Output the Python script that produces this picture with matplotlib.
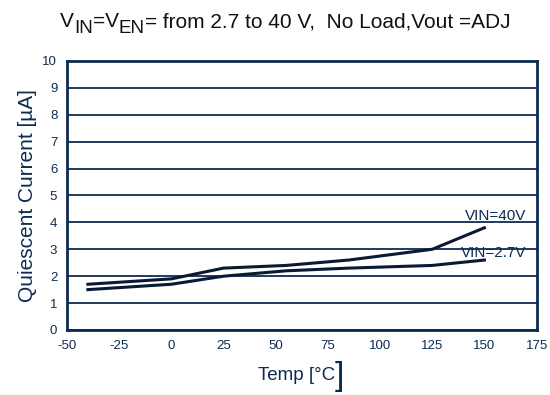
import matplotlib.pyplot as plt
import numpy as np

temps = [-40, 0, 25, 55, 85, 125, 150]
iq_40v = [1.7, 1.9, 2.3, 2.4, 2.6, 3.0, 3.8]
iq_2v7 = [1.5, 1.7, 2.0, 2.2, 2.3, 2.4, 2.6]
x_ticks = [-50, -25, 0, 25, 50, 75, 100, 125, 150, 175]
y_ticks = list(range(0, 11))

navy = '#0d2b50'
line_col = '#0a1a33'

plt.rcParams['font.family'] = ['Liberation Sans', 'DejaVu Sans']
plt.rcParams['axes.unicode_minus'] = False

fig = plt.figure(figsize=(5.5, 3.95), dpi=100)
ax = fig.add_axes([0.1218, 0.1646, 0.8538, 0.681])

for y in y_ticks:
    ax.axhline(y, color=navy, lw=1.3, zorder=1)

ax.plot(temps, iq_40v, color=line_col, lw=2.2, zorder=3)
ax.plot(temps, iq_2v7, color=line_col, lw=2.2, zorder=3)

ax.text(170, 4.1, 'VIN=40V', ha='right', va='baseline', fontsize=11, color=navy)
ax.text(170, 2.72, 'VIN=2.7V', ha='right', va='baseline', fontsize=11, color=navy)

ax.set_xlim(-50, 175)
ax.set_ylim(0, 10)
ax.set_xticks(x_ticks)
ax.set_yticks(y_ticks)
ax.tick_params(length=0, labelsize=9.5, colors=navy, pad=7)
for s in ax.spines.values():
    s.set_color(navy)
    s.set_linewidth(2)

ax.set_ylabel('Quiescent Current [µA]', fontsize=15, color=navy, labelpad=4)

renderer = fig.canvas.get_renderer()

# x label with the oversized closing bracket
xl = fig.text(258 / 550, (395 - 380) / 395, 'Temp [°C', fontsize=13.5,
              color=navy, va='baseline', ha='left')
xr = 258 + xl.get_window_extent(renderer).width
fig.text(xr / 550, (395 - 385) / 395, ']', fontsize=24, color=navy,
         va='baseline', ha='left')

# title pieced together so the subscripts stay large
pieces = [('V', 0), ('IN', -6), ('=V', 0), ('EN', -6),
          ('= from 2.7 to 40 V,  No Load,Vout =ADJ', 0)]
x = 60
base = 395 - 27
for txt, dy in pieces:
    size = 13.5 if dy else 15
    t = fig.text(x / 550, (base + dy) / 395, txt, fontsize=size,
                 color='#111111', va='baseline', ha='left')
    x += t.get_window_extent(renderer).width

fig.savefig('out.png', dpi=100)
